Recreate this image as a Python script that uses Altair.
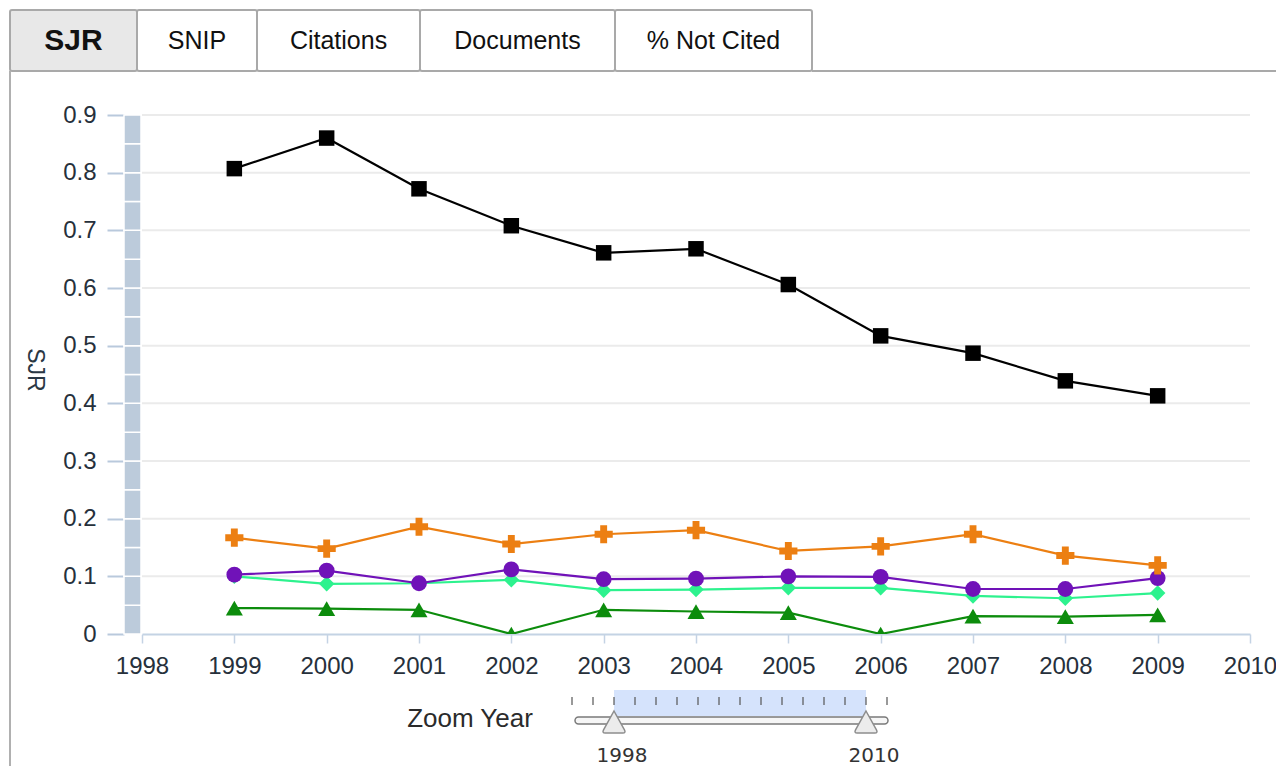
import altair as alt
import pandas as pd

# ---------------- data ----------------
years = [1999, 2000, 2001, 2002, 2003, 2004, 2005, 2006, 2007, 2008, 2009]
series_black = [0.807, 0.860, 0.772, 0.708, 0.661, 0.668, 0.606, 0.517, 0.487, 0.439, 0.413]
series_orange = [0.167, 0.148, 0.186, 0.156, 0.173, 0.180, 0.144, 0.152, 0.173, 0.136, 0.119]
series_purple = [0.103, 0.110, 0.088, 0.112, 0.095, 0.096, 0.100, 0.099, 0.078, 0.078, 0.097]
series_spring = [0.100, 0.087, 0.088, 0.094, 0.076, 0.077, 0.080, 0.080, 0.066, 0.062, 0.071]
series_green = [0.045, 0.044, 0.042, 0.000, 0.042, 0.039, 0.037, 0.000, 0.031, 0.030, 0.033]

x_ticks = list(range(1998, 2011))
y_ticks = [0, 0.1, 0.2, 0.3, 0.4, 0.5, 0.6, 0.7, 0.8, 0.9]
tab_labels = ["SJR", "SNIP", "Citations", "Documents", "% Not Cited"]
slider_tick_years = list(range(1996, 2012))
slider_handle_years = [1998, 2010]

# series drawn back to front
series_order = ["Series 5", "Series 4", "Series 3", "Series 2", "Series 1"]
series_values = {
    "Series 1": series_black,
    "Series 2": series_orange,
    "Series 3": series_purple,
    "Series 4": series_spring,
    "Series 5": series_green,
}
thick_plus = "M-0.38,-1H0.38V-0.38H1V0.38H0.38V1H-0.38V0.38H-1V-0.38H-0.38Z"
series_colors = ["#0c8c0c", "#2df28e", "#7012b8", "#ec7f12", "#000000"]
series_shapes = ["triangle-up", "diamond", "circle", thick_plus, "square"]
series_sizes = [290, 240, 250, 330, 240]

rows = []
for order, name in enumerate(series_order):
    for yr, v in zip(years, series_values[name]):
        rows.append({"year": yr, "value": v, "series": name, "order": order})
df = pd.DataFrame(rows)

# ---------------- layout ----------------
W, H = 1108, 519
PL, PT, PR, PB = 134, 107, 26, 132
FONT = "Liberation Sans"
one = pd.DataFrame({"k": [0]})


def px(page_x):
    return page_x - (PL + 8)


def py(page_y):
    return page_y - (PT + 8)


x_scale = alt.Scale(domain=[1998, 2010], nice=False, zero=False)
y_scale = alt.Scale(domain=[0, 0.9], nice=False, zero=True)

y_axis = alt.Axis(
    values=y_ticks, format=".1~f", title=None, grid=False, domain=False,
    offset=18, tickSize=17, tickColor="#b9c9dc", tickWidth=2,
    labelFont=FONT, labelFontSize=24, labelColor="#26303b", labelPadding=11,
    labelFlush=False, labelOverlap=False,
)
x_axis = alt.Axis(
    values=x_ticks, format="d", title=None, grid=False,
    domainColor="#c4d3e4", domainWidth=2, tickColor="#c4d3e4", tickWidth=1.5,
    tickSize=9, labelFont=FONT, labelFontSize=24, labelColor="#26303b",
    labelPadding=11, labelFlush=False, labelOverlap=False,
)

layers = []

# ---- tabs ----
tab_edges = [10, 137, 257, 420, 615, 812]
for i, lab in enumerate(tab_labels):
    active = i == 0
    layers.append(
        alt.Chart(one).mark_rect(
            fill="#e8e8e8" if active else "#ffffff",
            stroke="#a9a9a9", strokeWidth=2, cornerRadius=2,
        ).encode(
            x=alt.value(px(tab_edges[i])), x2=alt.value(px(tab_edges[i + 1])),
            y=alt.value(py(10)), y2=alt.value(py(71)),
        )
    )
    layers.append(
        alt.Chart(one).mark_text(
            font=FONT, fontSize=30 if active else 25,
            fontWeight="bold" if active else "normal",
            color="#111111", align="center", baseline="middle",
        ).encode(
            x=alt.value(px((tab_edges[i] + tab_edges[i + 1]) / 2)),
            y=alt.value(py(41)),
            text=alt.value(lab),
        )
    )

# panel lines
layers.append(
    alt.Chart(one).mark_rule(color="#a9a9a9", strokeWidth=2).encode(
        x=alt.value(px(812)), x2=alt.value(px(1276)), y=alt.value(py(71))
    )
)
layers.append(
    alt.Chart(one).mark_rule(color="#b0b0b0", strokeWidth=2).encode(
        x=alt.value(px(10)), y=alt.value(py(71)), y2=alt.value(py(766))
    )
)

# ---- vertical segmented bar beside the y axis ----
seg = pd.DataFrame({"y0": [i * 0.05 for i in range(18)]})
seg["y1"] = seg["y0"] + 0.05
layers.append(
    alt.Chart(seg).mark_rect(fill="#bccbdb", stroke="#ffffff", strokeWidth=1.5).encode(
        x=alt.value(-18), x2=alt.value(-1),
        y=alt.Y("y0:Q", scale=y_scale, axis=y_axis), y2="y1:Q",
    )
)

# ---- gridlines ----
grid = pd.DataFrame({"v": y_ticks[1:]})
layers.append(
    alt.Chart(grid).mark_rule(color="#ebebeb", strokeWidth=2).encode(
        y=alt.Y("v:Q", scale=y_scale, axis=y_axis),
        x=alt.value(0), x2=alt.value(W),
    )
)

# ---- series ----
color_enc = alt.Color(
    "series:N", scale=alt.Scale(domain=series_order, range=series_colors), legend=None
)

layers.append(
    alt.Chart(df).mark_line(strokeWidth=2.2, clip=True).encode(
        x=alt.X("year:Q", scale=x_scale, axis=x_axis),
        y=alt.Y("value:Q", scale=y_scale, axis=y_axis),
        color=color_enc, order="year:Q",
    )
)
layers.append(
    alt.Chart(df).mark_point(filled=True, opacity=1, clip=True).encode(
        x=alt.X("year:Q", scale=x_scale, axis=x_axis),
        y=alt.Y("value:Q", scale=y_scale, axis=y_axis),
        color=color_enc,
        shape=alt.Shape("series:N", scale=alt.Scale(domain=series_order, range=series_shapes), legend=None),
        size=alt.Size(
            "series:N",
            scale=alt.Scale(type="ordinal", domain=series_order, range=series_sizes),
            legend=None,
        ),
        order="order:Q",
    )
)

# ---- y title ----
layers.append(
    alt.Chart(one).mark_text(
        font=FONT, fontSize=23, angle=90, color="#2a3744", align="center", baseline="middle"
    ).encode(x=alt.value(px(35)), y=alt.value(py(370)), text=alt.value("SJR"))
)

# ---- zoom slider ----
layers.append(
    alt.Chart(one).mark_text(
        font=FONT, fontSize=26, color="#2b2b2b", align="center", baseline="middle"
    ).encode(x=alt.value(px(470)), y=alt.value(py(719)), text=alt.value("Zoom Year"))
)
layers.append(
    alt.Chart(one).mark_rect(fill="#d5e3fc").encode(
        x=alt.value(px(614)), x2=alt.value(px(866)),
        y=alt.value(py(690)), y2=alt.value(py(716)),
    )
)
sl_ticks = pd.DataFrame({"yr": slider_tick_years})
layers.append(
    alt.Chart(sl_ticks).mark_rule(color="#555555", strokeWidth=1.2).transform_calculate(
        p=f"{px(614)} + (datum.yr - 1998) * 21"
    ).encode(
        x=alt.X("p:Q", scale=None, axis=None),
        y=alt.value(py(697)), y2=alt.value(py(705)),
    )
)
layers.append(
    alt.Chart(one).mark_rect(
        fill="#f6f6f6", stroke="#7a7a7a", strokeWidth=1.5, cornerRadius=3.5
    ).encode(
        x=alt.value(px(575)), x2=alt.value(px(888)),
        y=alt.value(py(717)), y2=alt.value(py(724)),
    )
)
handles = pd.DataFrame({"yr": slider_handle_years})
handle_path = "M0,-1L0.95,0.72Q1.1,1 0.8,1L-0.8,1Q-1.1,1 -0.95,0.72Z"
layers.append(
    alt.Chart(handles).mark_point(
        shape=handle_path, filled=True, fill="#ececec", stroke="#8d8d8d",
        strokeWidth=1.5, opacity=1, size=484,
    ).transform_calculate(
        p=f"{px(614)} + (datum.yr - 1998) * 21"
    ).encode(
        x=alt.X("p:Q", scale=None, axis=None), y=alt.value(py(722)),
    )
)
layers.append(
    alt.Chart(handles).mark_text(
        font="DejaVu Sans", fontSize=20, color="#333333", align="center", baseline="alphabetic"
    ).transform_calculate(
        p=f"{px(622)} + (datum.yr - 1998) * 21", t="'' + datum.yr"
    ).encode(
        x=alt.X("p:Q", scale=None, axis=None), y=alt.value(py(762)), text="t:N",
    )
)

chart = alt.layer(*layers).properties(
    width=W, height=H,
    autosize=alt.AutoSizeParams(type="none"),
    padding={"left": PL, "top": PT, "right": PR, "bottom": PB},
    background="#ffffff",
).configure_view(stroke=None)

chart.save("out.html", embed_options={"renderer": "svg", "actions": False})
